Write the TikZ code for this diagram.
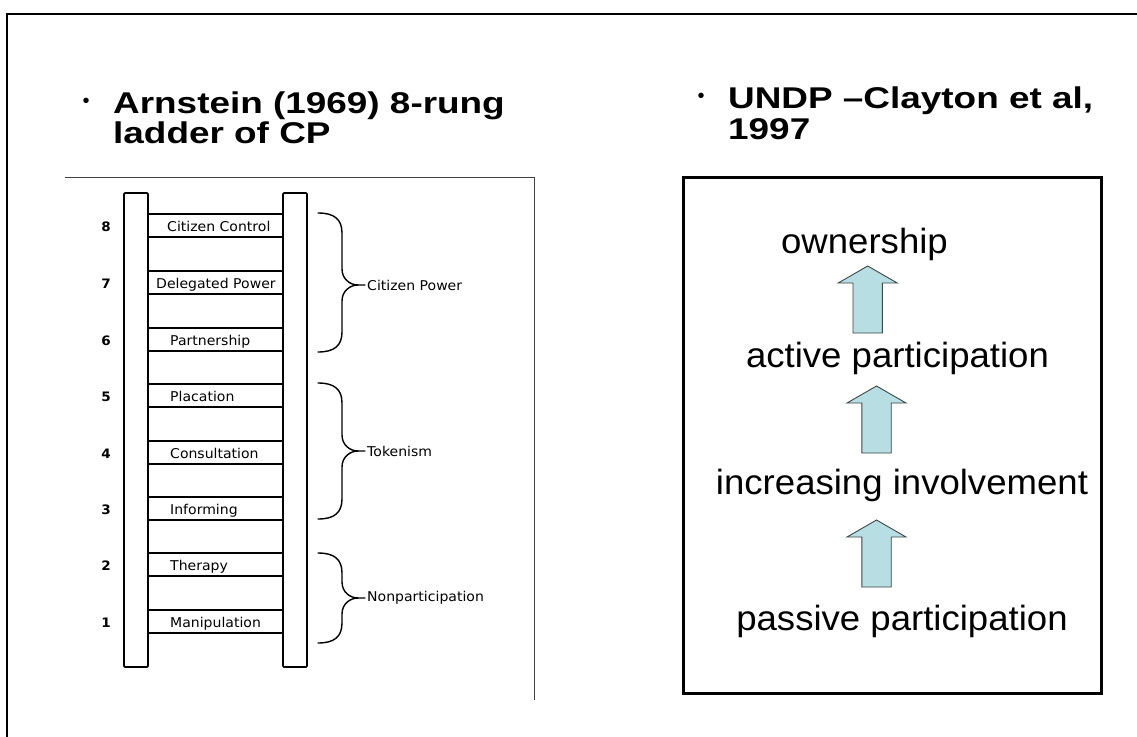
\documentclass[tikz,border=0pt]{standalone}
\usepackage{fontspec}
\setmainfont{Liberation Sans}
\newfontfamily\headfont{Liberation Sans}[FakeStretch=1.23]
\newfontfamily\boxfont{Liberation Sans}[FakeStretch=1.045]
\newfontfamily\ladfont{DejaVu Sans}[FakeStretch=1.04]
\definecolor{arrowfill}{RGB}{183,222,226}
\definecolor{arrowline}{RGB}{60,70,70}
\begin{document}
\begin{tikzpicture}[x=1pt,y=-1pt,
  frameline/.style={line width=2.4pt,black},
  headtxt/.style={anchor=base west,inner sep=0pt,font=\headfont\bfseries\fontsize{30}{33}\selectfont},
  bullettxt/.style={anchor=center,inner sep=0pt,font=\fontsize{20}{20}\selectfont},
  rail/.style={draw,line width=1.6pt,rounded corners=1pt},
  rungline/.style={line width=1.5pt},
  ladtxt/.style={anchor=base west,inner sep=0pt,font=\ladfont\fontsize{13.5}{16}\selectfont},
  numtxt/.style={anchor=base,inner sep=0pt,font=\ladfont\bfseries\fontsize{13}{16}\selectfont},
  bracestyle/.style={line width=1.4pt,line cap=round},
  boxtxt/.style={anchor=base,inner sep=0pt,font=\boxfont\fontsize{35}{40}\selectfont},
  blockarrow/.style={fill=arrowfill,draw=arrowline,line width=0.9pt,line join=miter},
  uparrow/.pic={\draw[blockarrow] (-14.7,0) -- (-14.7,-50) -- (-29.5,-50) -- (0,-67) -- (29.5,-50) -- (14.7,-50) -- (14.7,0) -- cycle;}
]
\useasboundingbox (0,0) rectangle (1137,736);
\fill[white] (0,0) rectangle (1137,736);
% outer frame
\coordinate (fbl) at (7,737);
\coordinate (ftl) at (7,14);
\coordinate (ftr) at (1138,14);
\draw[frameline] (fbl) -- (ftl) -- (ftr);

% headings
\node[bullettxt] (b1) at (86,103) {•};
\node[headtxt] (hA1) at (113,113) {Arnstein (1969) 8-rung};
\node[headtxt] (hA2) at (113,143) {ladder of CP};
\node[bullettxt] (b2) at (701,98) {•};
\node[headtxt] (hB1) at (728,108) {UNDP –Clayton et al,};
\node[headtxt] (hB2) at (728,139) {1997};

% ladder image frame
\coordinate (i1) at (65,177);
\coordinate (i2) at (534,177);
\coordinate (i3) at (534,700);
\draw[line width=0.9pt,black!75] (i1) -- (i2) -- (i3);

% rails
\draw[rail] (124,193) rectangle (148,667);
\draw[rail] (283,193) rectangle (307,667);

% rungs
\foreach \t/\n/\lab/\lx in {214/8/Citizen Control/167, 271/7/Delegated Power/156, 328/6/Partnership/170, 384/5/Placation/170, 441/4/Consultation/170, 497/3/Informing/170, 553/2/Therapy/170, 610/1/Manipulation/170}{
  \draw[rungline] (148,\t) -- (283,\t);
  \draw[rungline] (148,\t+23) -- (283,\t+23);
  \node[ladtxt] (r\n) at (\lx,\t+17) {\lab};
  \node[numtxt] (n\n) at (106,\t+17) {\n};
}

% braces
\foreach \T/\B/\M/\nm/\lab in {213/352/285/cp/Citizen Power, 383/519/451/tk/Tokenism, 553/643/598/np/Nonparticipation}{
  \draw[bracestyle] (318,\T) .. controls (334,\T) and (342,\T+6) .. (342,\T+20)
     -- (342,\M-16) .. controls (342,\M-6) and (350,\M) .. (358,\M) -- (365,\M);
  \draw[bracestyle] (318,\B) .. controls (334,\B) and (342,\B-6) .. (342,\B-20)
     -- (342,\M+16) .. controls (342,\M+6) and (350,\M) .. (358,\M);
  \node[ladtxt,anchor=west] (\nm) at (367,\M) {\lab};
}

% right box
\node[draw,line width=2.8pt,inner sep=0pt,minimum width=418pt,minimum height=516pt,anchor=north west] (box) at (682,176) {};
\node[boxtxt] (own) at (864.5,253) {ownership};
\node[boxtxt] (act) at (897.5,367) {active participation};
\node[boxtxt] (inc) at (902,494) {increasing involvement};
\node[boxtxt] (pas) at (902,630) {passive participation};
\pic at (867.7,333) {uparrow};
\pic at (876.5,453) {uparrow};
\pic at (876.5,587) {uparrow};
\end{tikzpicture}
\end{document}
